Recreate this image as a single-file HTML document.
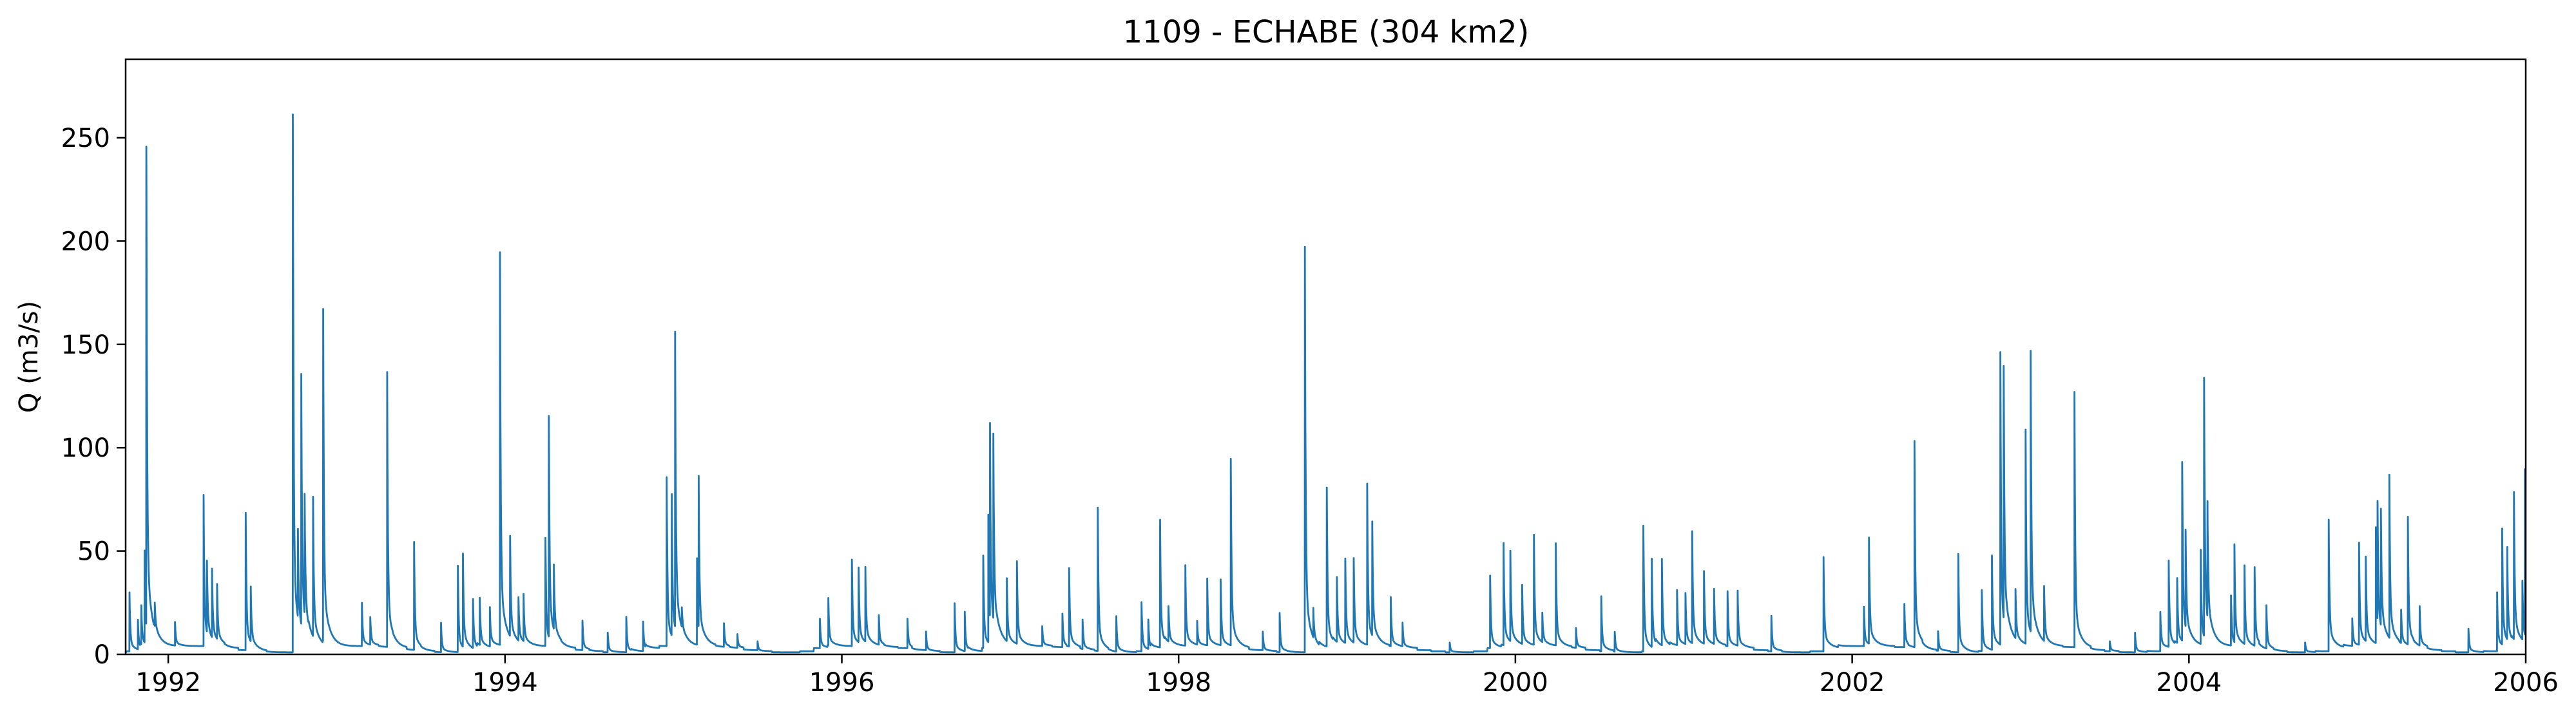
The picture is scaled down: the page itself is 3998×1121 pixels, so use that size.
<!DOCTYPE html>
<html><head><meta charset="utf-8"><style>
html,body{margin:0;padding:0;background:#fff;}
svg text{font-family:"DejaVu Sans","Liberation Sans",sans-serif;fill:#000;}
</style></head><body>
<svg id="chart" width="3998" height="1116" viewBox="0 0 3998 1116" xmlns="http://www.w3.org/2000/svg">
<rect width="3998" height="1116" fill="#fff"/>
<text x="2058" y="66" font-size="48" text-anchor="middle">1109 - ECHABE (304 km2)</text>
<text transform="translate(58,554) rotate(-90)" font-size="40" text-anchor="middle">Q (m3/s)</text>
<defs><clipPath id="clip"><rect x="195" y="92" width="3725" height="924"/></clipPath></defs>
<g id="series" clip-path="url(#clip)"></g>
<g id="axes"></g>
<rect x="195" y="92" width="3725" height="924" fill="none" stroke="#000" stroke-width="2.5"/>
</svg>
<script>
const xTicks = [1992,1994,1996,1998,2000,2002,2004,2006];
const yTicks = [0,50,100,150,200,250];
const eventYears = [1991.77,1991.82,1991.84,1991.86,1991.87,1991.92,1992.04,1992.21,1992.23,1992.26,1992.29,1992.46,1992.49,1992.74,1992.77,1992.79,1992.81,1992.86,1992.92,1993.15,1993.20,1993.30,1993.46,1993.62,1993.72,1993.75,1993.81,1993.85,1993.91,1993.97,1994.03,1994.08,1994.11,1994.24,1994.26,1994.29,1994.46,1994.61,1994.72,1994.82,1994.96,1994.99,1995.01,1995.05,1995.14,1995.15,1995.30,1995.38,1995.50,1995.87,1995.92,1996.06,1996.10,1996.14,1996.22,1996.39,1996.50,1996.67,1996.73,1996.84,1996.87,1996.88,1996.90,1996.98,1997.04,1997.19,1997.31,1997.35,1997.43,1997.52,1997.63,1997.78,1997.82,1997.89,1997.94,1998.04,1998.11,1998.17,1998.25,1998.31,1998.50,1998.60,1998.75,1998.80,1998.88,1998.94,1998.99,1999.04,1999.12,1999.15,1999.26,1999.33,1999.61,1999.85,1999.93,1999.97,2000.04,2000.11,2000.16,2000.24,2000.36,2000.51,2000.59,2000.76,2000.81,2000.87,2000.96,2001.01,2001.05,2001.12,2001.18,2001.26,2001.32,2001.52,2001.83,2002.07,2002.10,2002.31,2002.37,2002.51,2002.63,2002.77,2002.83,2002.88,2002.90,2002.97,2003.03,2003.06,2003.14,2003.32,2003.53,2003.68,2003.83,2003.88,2003.93,2003.96,2003.98,2004.07,2004.09,2004.11,2004.25,2004.27,2004.33,2004.39,2004.46,2004.69,2004.83,2004.97,2005.01,2005.05,2005.11,2005.12,2005.14,2005.19,2005.26,2005.30,2005.37,2005.66,2005.83,2005.86,2005.89,2005.93,2005.98,2005.995];
const eventPeaks = [30,15,20,47,248,12,12,77,37,35,28,70,28,274,45,128,62,71,169,22,14,140,55,15,44,47,25,24,20,200,51,22,24,55,113,33,15,10,18,15,86,72,151,10,44,81,12,7,5,15,24,44,38,38,15,15,10,25,20,47,65,105,95,32,42,10,17,40,15,73,18,25,15,65,18,41,12,34,34,95,10,20,206,15,81,33,43,43,82,58,25,12,5,37,52,46,30,56,15,52,10,28,10,64,45,44,28,26,57,37,28,28,28,18,48,20,54,22,105,10,50,31,48,149,130,25,109,143,28,130,5,10,20,44,33,91,50,48,132,60,26,50,40,40,22,5,67,14,52,43,59,66,60,83,17,65,20,12,30,59,47,75,30,85];
const baseMonthly = [4,4,4,3.5,3,2,1.5,1,1,1.5,3,4];

const NS='http://www.w3.org/2000/svg';
const X0=195,X1=3920,Y0=1016,Y1=92;
const xMin=1991.747,xMax=2006,yMax=288;
const xs=v=>X0+(v-xMin)/(xMax-xMin)*(X1-X0);
const ys=v=>Y0-v/yMax*(Y0-Y1);
const axes=document.getElementById('axes');
xTicks.forEach(t=>{
  const l=document.createElementNS(NS,'line');
  
  
  l.setAttribute('x1',xs(t));l.setAttribute('x2',xs(t));l.setAttribute('y1',Y0);l.setAttribute('y2',Y0+14);
  l.setAttribute('stroke','#000');l.setAttribute('stroke-width','2.5');axes.appendChild(l);
  const tx=document.createElementNS(NS,'text');
  
  
  tx.setAttribute('x',xs(t));tx.setAttribute('y',Y0+57);tx.setAttribute('font-size','40');tx.setAttribute('text-anchor','middle');
  tx.textContent=t;axes.appendChild(tx);
});
yTicks.forEach(t=>{
  const l=document.createElementNS(NS,'line');
  
  
  l.setAttribute('x1',X0-14);l.setAttribute('x2',X0);l.setAttribute('y1',ys(t));l.setAttribute('y2',ys(t));
  l.setAttribute('stroke','#000');l.setAttribute('stroke-width','2.5');axes.appendChild(l);
  const tx=document.createElementNS(NS,'text');
  
  
  tx.setAttribute('x',X0-24);tx.setAttribute('y',ys(t)+14);tx.setAttribute('font-size','40');tx.setAttribute('text-anchor','end');
  tx.textContent=t;axes.appendChild(tx);
});
// time grid: daily plus exact event instants
const times=[];
const step=1/365.25;
for(let t=xMin;t<=xMax+step;t+=step)times.push(t);
eventYears.forEach(e=>{times.push(e);times.push(e-0.3*step);});
times.sort((a,b)=>a-b);
const pts=[];
times.forEach(t=>{
  const m=Math.floor(((t%1)+1)%1*12);
  let v=baseMonthly[m];
  let fast=0,slow=0;
  for(let i=0;i<eventYears.length;i++){
    const dt=(t-eventYears[i])*365.25;
    if(dt<-1e-6)continue;
    fast=Math.max(fast,0.8*eventPeaks[i]*Math.exp(-dt/1.6));
    slow+=0.15*eventPeaks[i]*Math.exp(-dt/12);
  }
  v+=fast+slow;
  pts.push(xs(t).toFixed(1)+','+ys(v).toFixed(1));
});
const pl=document.createElementNS(NS,'polyline');


pl.setAttribute('points',pts.join(' '));
pl.setAttribute('fill','none');pl.setAttribute('stroke','#1f77b4');pl.setAttribute('stroke-width','2.8');pl.setAttribute('stroke-linejoin','round');
document.getElementById('series').appendChild(pl);
</script>
</body></html>
